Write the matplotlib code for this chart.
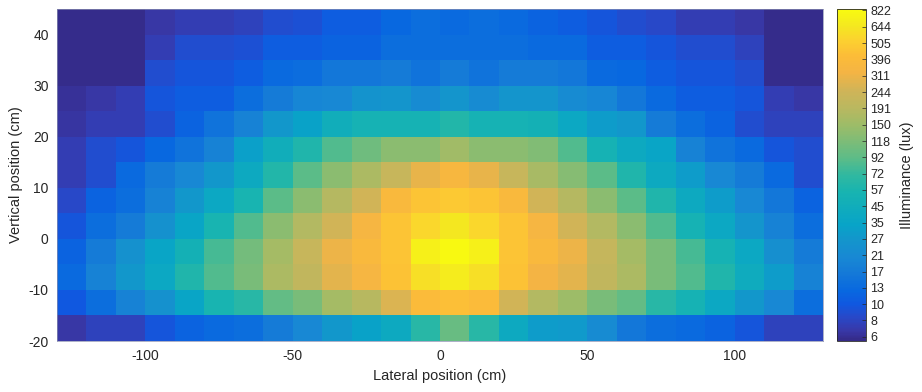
"""Illuminance map over lateral / vertical position, parula-like log colour scale."""

import matplotlib

matplotlib.use("Agg")
import matplotlib.pyplot as plt
import numpy as np
from matplotlib.colors import LinearSegmentedColormap, LogNorm

plt.rcParams["font.family"] = ["Liberation Sans", "DejaVu Sans"]
plt.rcParams["axes.unicode_minus"] = False

# cell centres (cm)
x_centers = [-125, -115, -105, -95, -85, -75, -65, -55, -45, -35, -25, -15, -5,
             5, 15, 25, 35, 45, 55, 65, 75, 85, 95, 105, 115, 125]
y_centers = [42.5, 37.5, 32.5, 27.5, 22.5, 17.5, 12.5, 7.5, 2.5, -2.5, -7.5, -12.5, -17.5]

# illuminance (lux), top row first
row_40 = [6.2, 6.2, 6.2, 7, 7.5, 7.5, 8, 9, 9.5, 11, 11, 12.5, 14, 13, 14, 13, 12, 11,
          10, 9, 8.5, 7.5, 7.5, 7, 6.2, 6.2]
row_35 = [6.2, 6.2, 6.2, 7.5, 9, 9, 9.5, 11, 11, 12, 12, 14, 14, 14, 14, 14, 13, 13,
          11, 11, 10, 9, 9, 8, 6.2, 6.2]
row_30 = [6.2, 6.2, 6.2, 9, 10, 10, 11, 13, 13.5, 16, 16, 17, 15, 17, 15, 17, 17, 16,
          13, 12.5, 11, 10, 10, 9, 6.2, 6.2]
row_25 = [6.5, 7, 7.5, 10, 11, 11, 14, 17, 20, 21, 26, 27, 22, 27, 22, 27, 27, 22,
          20, 16, 13, 11, 11, 10, 7.5, 7]
row_20 = [6.8, 7.5, 7.5, 9, 12, 15, 19, 28, 33, 45, 52, 52, 52, 62, 52, 52, 50, 38,
          30, 28, 17, 14, 12, 9, 8, 8]
row_15 = [7.5, 9, 10, 12.5, 15, 19, 32, 45, 60, 85, 105, 130, 130, 155, 130, 130, 120, 85,
          52, 40, 35, 19, 15, 13, 10, 9]
row_10 = [7.5, 9, 13, 17, 21, 28, 40, 62, 90, 130, 170, 225, 300, 360, 300, 225, 165, 125,
          90, 60, 40, 30, 21, 17, 13, 9]
row_5 = [8.5, 12, 14, 19, 28, 38, 55, 90, 130, 185, 250, 380, 460, 480, 460, 380, 250, 185,
         130, 90, 60, 40, 30, 21, 16, 12]
row_0 = [10, 14, 17, 25, 35, 55, 85, 130, 180, 250, 340, 460, 560, 650, 560, 460, 340, 250,
         180, 130, 85, 52, 38, 27, 19, 14]
row_m5 = [12, 17, 25, 35, 50, 80, 110, 160, 222, 310, 380, 460, 720, 820, 720, 460, 380, 310,
          220, 160, 115, 80, 52, 38, 24, 17]
row_m10 = [13, 19, 28, 38, 60, 85, 115, 170, 210, 290, 340, 450, 600, 680, 600, 450, 330, 290,
           210, 170, 115, 85, 60, 42, 30, 19]
row_m15 = [10.5, 14, 19, 25, 35, 55, 65, 95, 115, 160, 190, 270, 400, 430, 400, 250, 180, 150,
           115, 95, 65, 52, 38, 28, 21, 14]
row_m20 = [7, 8, 8, 10, 12, 13, 14, 17, 21, 28, 33, 40, 65, 100, 65, 40, 30, 29,
           22, 16, 14, 13, 12, 10, 8, 8]

cbar_labels = ["6", "8", "10", "13", "17", "21", "27", "35", "45", "57", "72", "92",
               "118", "150", "191", "244", "311", "396", "505", "644", "822"]

# colours sampled along the reference colour bar
parula = LinearSegmentedColormap.from_list(
    "parula_like",
    [(0.00, "#352A87"), (0.03, "#3838a8"), (0.07, "#2848c8"), (0.11, "#1058e0"),
     (0.15, "#0868e0"), (0.20, "#1478d8"), (0.25, "#1888d4"), (0.30, "#1494cc"),
     (0.35, "#08a4c8"), (0.40, "#10acbc"), (0.45, "#18b4b0"), (0.50, "#30b8a0"),
     (0.55, "#5cbc88"), (0.60, "#7cbc78"), (0.65, "#9cbc68"), (0.70, "#b8b860"),
     (0.755, "#d0b458"), (0.81, "#f4b444"), (0.86, "#fcbc38"), (0.905, "#fcd030"),
     (0.95, "#f4e820"), (1.00, "#f8fa10")],
)

lux = np.array([row_40, row_35, row_30, row_25, row_20, row_15, row_10,
                row_5, row_0, row_m5, row_m10, row_m15, row_m20])

fig = plt.figure(figsize=(9.22, 3.92), dpi=100)
ax = fig.add_axes([0.0618, 0.130, 0.8308, 0.847])
cax = fig.add_axes([0.9078, 0.130, 0.0315, 0.847])

norm = LogNorm(vmin=6.0, vmax=840)
mesh = ax.pcolormesh(x_centers, y_centers, lux, cmap=parula, norm=norm, shading="nearest")
ax.set_xlim(-130, 130)
ax.set_ylim(-20, 45)
ax.set_xticks([-100, -50, 0, 50, 100])
ax.set_yticks([-20, -10, 0, 10, 20, 30, 40])
ax.tick_params(length=0, labelsize=10, colors="#262626", pad=6)
for spine in ax.spines.values():
    spine.set_linewidth(0.5)
    spine.set_color("#8a8fb0")
ax.set_xlabel("Lateral position (cm)", fontsize=10.5, color="#262626", labelpad=4)
ax.set_ylabel("Vertical position (cm)", fontsize=10.5, color="#262626", labelpad=4)

cbar = fig.colorbar(mesh, cax=cax)
ticks = np.geomspace(6.39, 822, len(cbar_labels))
cbar.set_ticks(ticks)
cbar.set_ticklabels(cbar_labels)
cbar.minorticks_off()
cax.tick_params(direction="in", length=3, width=0.5, labelsize=9, colors="#262626", pad=3)
cbar.outline.set_linewidth(0.6)
cbar.outline.set_edgecolor("#262626")
cbar.set_label("Illuminance (lux)", fontsize=10.5, color="#262626", labelpad=6)

fig.savefig("out.png", dpi=100)
